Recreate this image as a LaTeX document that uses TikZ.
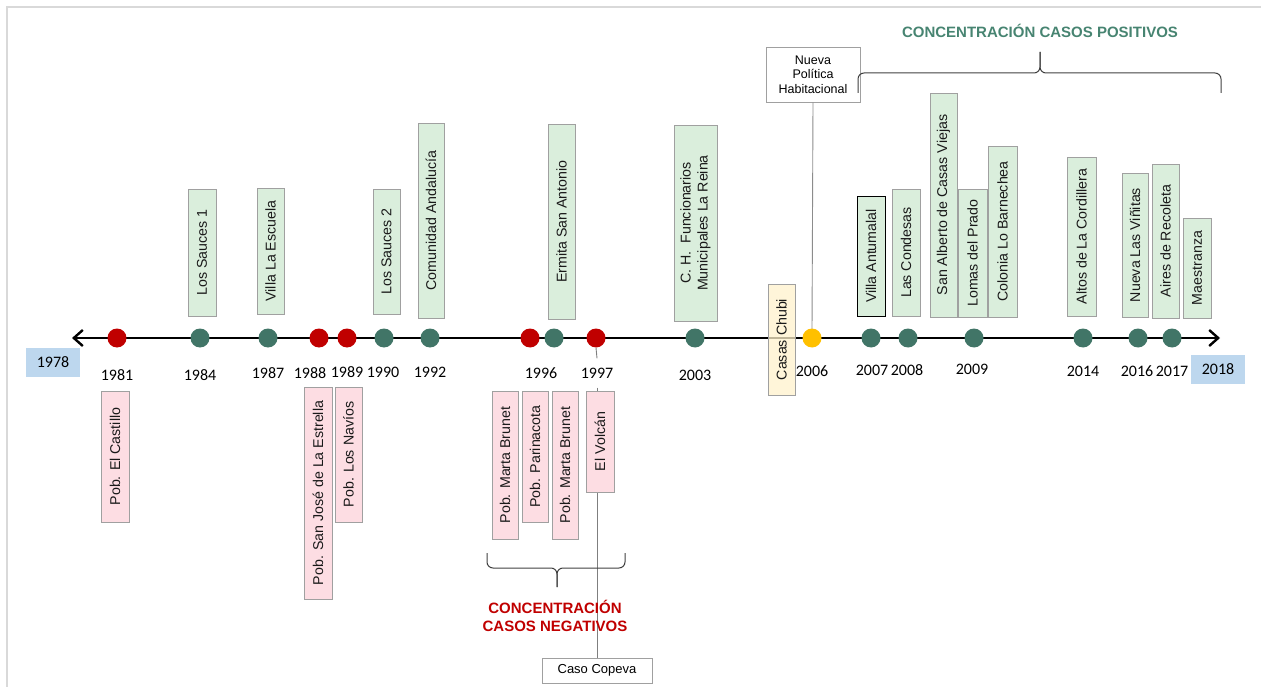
\documentclass[tikz,border=0pt]{standalone}
\usepackage{fontspec}
\setmainfont{Liberation Sans}
\newfontfamily\yearfont{Carlito}
\usetikzlibrary{arrows.meta}

\definecolor{framegray}{HTML}{D9D9D9}
\definecolor{boxgray}{HTML}{A0A0A0}
\definecolor{greenfill}{HTML}{DAEEDC}
\definecolor{pinkfill}{HTML}{FDDDE3}
\definecolor{yellowfill}{HTML}{FFF2CC}
\definecolor{bluefill}{HTML}{BDD7EE}
\definecolor{dotgreen}{HTML}{417567}
\definecolor{dotred}{HTML}{C00000}
\definecolor{dotyellow}{HTML}{FFC000}
\definecolor{postext}{HTML}{478471}
\definecolor{negtext}{HTML}{C00000}
\definecolor{linkgray}{HTML}{7F7F7F}

\tikzset{
  sz/.style 2 args={minimum width=#1pt, minimum height=#2pt},
  tagbox/.style={draw=boxgray, line width=0.9pt, rotate=90, inner sep=0pt,
    font=\fontsize{14.2}{17}\selectfont, align=center, text=black!90},
  gbox/.style={tagbox, fill=greenfill},
  pbox/.style={tagbox, fill=pinkfill},
  ybox/.style={tagbox, fill=yellowfill, fill opacity=0.75, text opacity=1},
  notebox/.style={draw=boxgray, line width=0.9pt, fill=white, inner sep=0pt,
    font=\fontsize{12.5}{14.5}\selectfont, align=center},
  yearlbl/.style={font=\yearfont\fontsize{16}{16}\selectfont, inner sep=0pt,
    minimum height=29pt},
  endyear/.style={fill=bluefill, inner sep=0pt, minimum width=54pt,
    minimum height=29pt, font=\yearfont\fontsize{16}{16}\selectfont},
  dotbase/.style={circle, inner sep=0pt, minimum size=19pt},
  gdot/.style={dotbase, fill=dotgreen},
  rdot/.style={dotbase, fill=dotred},
  ydot/.style={dotbase, fill=dotyellow},
  timeline/.style={line width=2.8pt,
    {Straight Barb[length=9pt,width=16pt,line width=2.4pt]}-{Straight Barb[length=9pt,width=16pt,line width=2.4pt]}},
  link/.style={linkgray, line width=0.9pt},
  bracket/.style={draw=black!75, line width=1pt, rounded corners=6pt},
  headline/.style={font=\bfseries\fontsize{15}{18}\selectfont, align=center}
}

\begin{document}
\begin{tikzpicture}[x=1pt, y=-1pt]
\useasboundingbox (0,0) rectangle (1261,687);

% page frame
\draw[framegray, line width=2pt] (7,687) -- (7,7) -- (1261,7);

% axis ends
\coordinate (tlL) at (72,338);
\coordinate (tlR) at (1220,338);

\node[yearlbl, fill=white] (y1997) at (597,373) {1997};
\node[notebox, sz={110}{25}, font=\fontsize{13}{15}\selectfont] (copeva) at (597,670.5) {Caso Copeva};
\node[notebox, sz={94}{55}] (nph) at (813,74.5) {Nueva\\Política\\Habitacional};

% main axis
\draw[timeline] (tlL) -- (tlR);

% event dots
\node[rdot] (d1981) at (117,338) {};
\node[gdot] (d1984) at (200,338) {};
\node[gdot] (d1987) at (268,338) {};
\node[rdot] (d1988) at (319,338) {};
\node[rdot] (d1989) at (347,338) {};
\node[gdot] (d1990) at (384,338) {};
\node[gdot] (d1992) at (430,338) {};
\node[rdot] (d1996a) at (530,338) {};
\node[gdot] (d1996b) at (554,338) {};
\node[rdot] (d1997) at (596,338) {};
\node[gdot] (d2003) at (695,338) {};
\node[gdot] (d2007) at (871,338) {};
\node[gdot] (d2008) at (908,338) {};
\node[gdot] (d2009) at (974,338) {};
\node[gdot] (d2014) at (1083,338) {};
\node[gdot] (d2016) at (1138,338) {};
\node[gdot] (d2017) at (1172,338) {};

\draw[link] (d1997.south) -- (y1997.north);
\draw[link] (y1997.south) -- (copeva.north);
\draw[link, black!45] (nph.south) -- (812,330);
\node[ydot] (d2006) at (812,338) {};

% year labels
\node[endyear] (y1978) at (53,362.5) {1978};
\node[endyear] (y2018) at (1218,369.5) {2018};
\node[yearlbl] (y1981) at (117,375) {1981};
\node[yearlbl] (y1984) at (200,375) {1984};
\node[yearlbl] (y1987) at (268,373) {1987};
\node[yearlbl] (y1988) at (310,373) {1988};
\node[yearlbl] (y1989) at (347,372) {1989};
\node[yearlbl] (y1990) at (383,372) {1990};
\node[yearlbl] (y1992) at (430,372) {1992};
\node[yearlbl] (y1996) at (541,373) {1996};
\node[yearlbl] (y2003) at (695,375) {2003};
\node[yearlbl] (y2006) at (812,371) {2006};
\node[yearlbl] (y2007) at (872,370) {2007};
\node[yearlbl] (y2008) at (907,370) {2008};
\node[yearlbl] (y2009) at (972,369) {2009};
\node[yearlbl] (y2014) at (1083,371) {2014};
\node[yearlbl] (y2016) at (1137,371) {2016};
\node[yearlbl] (y2017) at (1172,371) {2017};

% settlements above the axis
\node[gbox, sz={127}{28}] (sauces1) at (202,252.5) {Los Sauces 1};
\node[gbox, sz={126}{27}] (escuela) at (270.5,251) {Villa La Escuela};
\node[gbox, sz={125}{27}] (sauces2) at (386.5,251.5) {Los Sauces 2};
\node[gbox, sz={195}{26}] (andalucia) at (431,220.5) {Comunidad Andalucía};
\node[gbox, sz={195}{27}] (ermita) at (561.5,221.5) {Ermita San Antonio};
\node[gbox, sz={196}{43}] (funcionarios) at (695.5,223) {C. H.~~Funcionarios\\Municipales La Reina};
\node[ybox, sz={111}{27}] (chubi) at (781.5,339.5) {Casas Chubi};
\node[gbox, sz={120}{28}, draw=black] (antumalal) at (871,256) {Villa Antumalal};
\node[gbox, sz={127}{28}] (condesas) at (906,252.5) {Las Condesas};
\node[gbox, sz={224}{27}] (sanalberto) at (943.5,205) {San Alberto de Casas Viejas};
\node[gbox, sz={128}{29}] (lomas) at (972.5,253) {Lomas del Prado};
\node[gbox, sz={171}{29}] (barnechea) at (1002.5,231.5) {Colonia Lo Barnechea};
\node[gbox, sz={159}{29}] (cordillera) at (1081.5,236.5) {Altos de La Cordillera};
\node[gbox, sz={144}{26}] (vinitas) at (1135,245) {Nueva Las Viñitas};
\node[gbox, sz={154}{27}] (recoleta) at (1165.5,241) {Aires de Recoleta};
\node[gbox, sz={100}{28}] (maestranza) at (1197,268) {Maestranza};

% settlements below the axis
\node[pbox, sz={131}{28}] (castillo) at (115,456.5) {Pob. El Castillo};
\node[pbox, sz={212}{28}] (estrella) at (318,493) {Pob. San José de La Estrella};
\node[pbox, sz={135}{27}] (navios) at (348.5,454.5) {Pob. Los Navíos};
\node[pbox, sz={148}{26}] (brunet1) at (505,465) {Pob. Marta Brunet};
\node[pbox, sz={131}{26}] (parinacota) at (535,456.5) {Pob. Parinacota};
\node[pbox, sz={148}{26}] (brunet2) at (565,465) {Pob. Marta Brunet};
\node[pbox, sz={101}{28}] (volcan) at (600,441.5) {El Volcán};

% groupings
\node[headline, text=postext] (poshead) at (1040,31) {CONCENTRACIÓN CASOS POSITIVOS};
\coordinate (posL) at (858,93);
\coordinate (posT) at (1040,52);
\coordinate (posR) at (1221,93);
\draw[bracket] (posL) |- (1040,73) -- (posT);
\draw[bracket] (posT) -- (1040,73) -| (posR);

\node[headline, text=negtext] (neghead) at (555,616) {CONCENTRACIÓN\\CASOS NEGATIVOS};
\coordinate (negL) at (487,553);
\coordinate (negB) at (557,587);
\coordinate (negR) at (625,553);
\draw[bracket] (negL) |- (557,568) -- (negB);
\draw[bracket] (negB) -- (557,568) -| (negR);
\end{tikzpicture}
\end{document}
